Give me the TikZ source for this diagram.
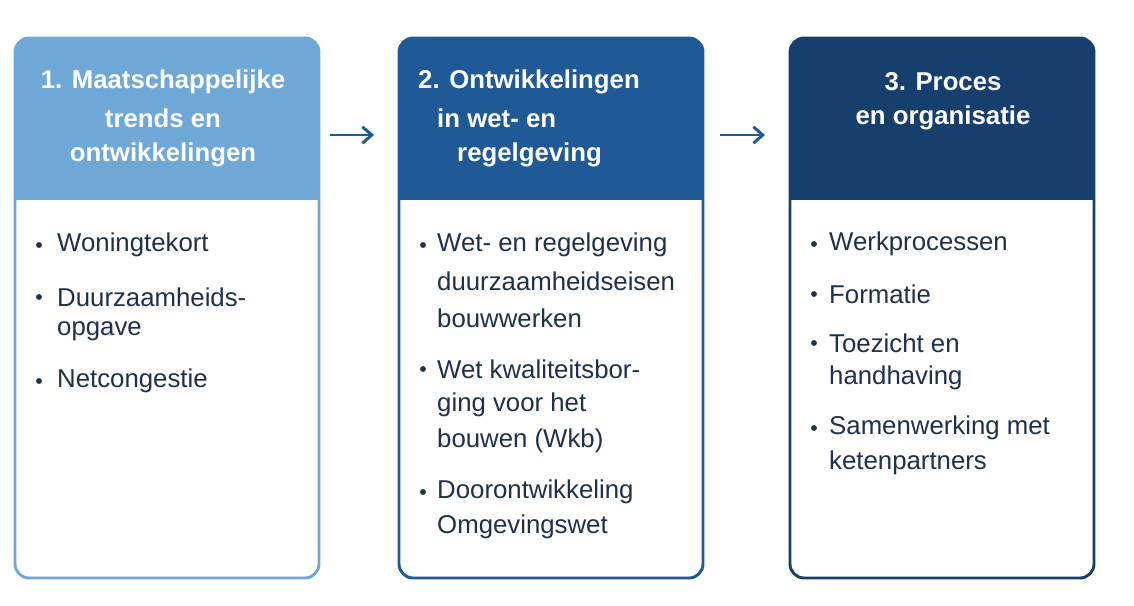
\documentclass[tikz,border=0pt]{standalone}
\usepackage{fontspec}
\setmainfont{Liberation Sans}
\usetikzlibrary{arrows.meta}
\definecolor{cA}{HTML}{6FA8D6}
\definecolor{cB}{HTML}{1F5A96}
\definecolor{cC}{HTML}{173F6E}
\definecolor{txt}{HTML}{1E2F4F}
\begin{document}
\begin{tikzpicture}[x=0.03cm,y=-0.03cm,
  hd/.style={text=white,font=\fontsize{22}{26}\selectfont\bfseries,inner sep=0},
  bl/.style={text=txt,font=\fontsize{22}{26}\selectfont,anchor=west,inner sep=0},
  dot/.style={circle,fill=txt,inner sep=0,minimum size=5pt},
  arr/.style={-{Straight Barb[length=8pt,width=14pt]},line width=2.5pt,color=cB}]
\useasboundingbox (0,0) rectangle (1134,605);
% boxes
\foreach \x/\c/\n in {15/cA/b1,399/cB/b2,790/cC/b3}{
  \begin{scope}
  \clip[rounded corners=12pt] (\x,38) rectangle ++(304,540);
  \fill[\c] (\x,38) rectangle ++(304,162);
  \end{scope}
  \draw[\c,line width=2.5pt,rounded corners=12pt] (\x,38) rectangle ++(304,540);
}
\node[hd] (h1a) at (163,82) {1. Maatschappelijke};
\node[hd] (h1b) at (163,118) {trends en};
\node[hd] (h1c) at (163,155) {ontwikkelingen};
\node[hd,anchor=west] (h2a) at (418,82) {2. Ontwikkelingen};
\node[hd,anchor=west] (h2b) at (437,118) {in wet- en};
\node[hd,anchor=west] (h2c) at (457,155) {regelgeving};
\node[hd] (h3a) at (943,82) {3. Proces};
\node[hd] (h3b) at (943,118) {en organisatie};
% arrows
\coordinate (a1s) at (330,135); \coordinate (a1e) at (374,135);
\coordinate (a2s) at (720,135); \coordinate (a2e) at (765,135);
\draw[arr] (a1s) -- (a1e);
\draw[arr] (a2s) -- (a2e);
% column 1
\node[dot] (d11) at (39,245) {}; \node[bl] (t11) at (57,245) {Woningtekort};
\node[dot] (d12) at (39,297) {}; \node[bl] (t12) at (57,297) {Duurzaamheids-};
\node[bl] (t12b) at (57,331) {opgave};
\node[dot] (d13) at (39,381) {}; \node[bl] (t13) at (57,381) {Netcongestie};
% column 2
\node[dot] (d21) at (423,245) {}; \node[bl] (t21) at (437,245) {Wet- en regelgeving};
\node[bl] (t21b) at (437,281) {duurzaamheidseisen};
\node[bl] (t21c) at (437,318) {bouwwerken};
\node[dot] (d22) at (423,369) {}; \node[bl] (t22) at (437,369) {Wet kwaliteitsbor-};
\node[bl] (t22b) at (437,405) {ging voor het};
\node[bl] (t22c) at (437,441) {bouwen (Wkb)};
\node[dot] (d23) at (423,492) {}; \node[bl] (t23) at (437,492) {Doorontwikkeling};
\node[bl] (t23b) at (437,527) {Omgevingswet};
% column 3
\node[dot] (d31) at (814,244) {}; \node[bl] (t31) at (829,244) {Werkprocessen};
\node[dot] (d32) at (814,294) {}; \node[bl] (t32) at (829,294) {Formatie};
\node[dot] (d33) at (814,343) {}; \node[bl] (t33) at (829,343) {Toezicht en};
\node[bl] (t33b) at (829,378) {handhaving};
\node[dot] (d34) at (814,428) {}; \node[bl] (t34) at (829,428) {Samenwerking met};
\node[bl] (t34b) at (829,463) {ketenpartners};
\end{tikzpicture}
\end{document}
